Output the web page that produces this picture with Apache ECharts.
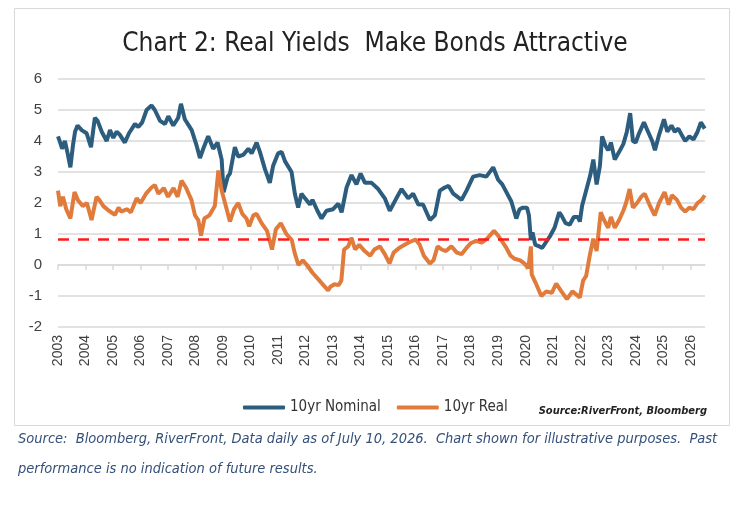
<!DOCTYPE html>
<html>
<head>
<meta charset="utf-8">
<script src="https://cdn.jsdelivr.net/npm/echarts@6/dist/echarts.min.js"></script>
<style>
  html, body { margin: 0; padding: 0; background: #fff; }
  #chart { width: 750px; height: 516px; }
</style>
</head>
<body>
<div id="chart"></div>
<script>
// [year, yield %]
const nominal10y = [
  [2003.00, 4.15], [2003.08, 3.95], [2003.15, 3.75], [2003.25, 4.0], [2003.35, 3.6], [2003.45, 3.15],
  [2003.55, 3.9], [2003.62, 4.3], [2003.71, 4.5], [2003.86, 4.35], [2004.04, 4.25], [2004.2, 3.8],
  [2004.34, 4.75], [2004.44, 4.65], [2004.59, 4.3], [2004.77, 4.0], [2004.89, 4.35], [2005.01, 4.1],
  [2005.13, 4.3], [2005.25, 4.2], [2005.43, 3.95], [2005.58, 4.25], [2005.8, 4.55], [2005.92, 4.45],
  [2006.06, 4.6], [2006.22, 5.0], [2006.4, 5.15], [2006.52, 5.0], [2006.71, 4.65], [2006.89, 4.55],
  [2007.01, 4.8], [2007.19, 4.5], [2007.37, 4.75], [2007.47, 5.2], [2007.61, 4.7], [2007.86, 4.35],
  [2008.04, 3.85], [2008.16, 3.45], [2008.28, 3.75], [2008.46, 4.15], [2008.64, 3.75], [2008.8, 3.95],
  [2008.95, 3.4], [2009.02, 2.35], [2009.17, 2.85], [2009.25, 2.95], [2009.43, 3.8], [2009.55, 3.5],
  [2009.73, 3.55], [2009.92, 3.75], [2010.04, 3.6], [2010.22, 3.95], [2010.34, 3.65], [2010.52, 3.1],
  [2010.7, 2.65], [2010.82, 3.2], [2011.0, 3.6], [2011.13, 3.65], [2011.25, 3.35], [2011.49, 3.0],
  [2011.61, 2.3], [2011.73, 1.85], [2011.85, 2.3], [2011.98, 2.15], [2012.16, 1.95], [2012.25, 2.1],
  [2012.43, 1.75], [2012.58, 1.5], [2012.76, 1.75], [2013.0, 1.8], [2013.19, 1.98], [2013.31, 1.7],
  [2013.49, 2.5], [2013.67, 2.9], [2013.85, 2.6], [2014.0, 2.95], [2014.16, 2.65], [2014.4, 2.65],
  [2014.64, 2.45], [2014.88, 2.15], [2015.06, 1.75], [2015.3, 2.15], [2015.49, 2.45], [2015.73, 2.15],
  [2015.91, 2.3], [2016.1, 1.95], [2016.27, 1.95], [2016.52, 1.45], [2016.7, 1.6], [2016.88, 2.4],
  [2017.06, 2.5], [2017.2, 2.55], [2017.37, 2.3], [2017.67, 2.1], [2017.85, 2.4], [2018.09, 2.85],
  [2018.33, 2.9], [2018.57, 2.85], [2018.82, 3.15], [2019.0, 2.75], [2019.15, 2.6], [2019.3, 2.35],
  [2019.48, 2.05], [2019.66, 1.5], [2019.78, 1.8], [2019.9, 1.85], [2020.05, 1.85], [2020.12, 1.6],
  [2020.19, 0.8], [2020.25, 1.05], [2020.35, 0.65], [2020.5, 0.6], [2020.6, 0.55], [2020.75, 0.75],
  [2020.9, 0.95], [2021.05, 1.2], [2021.22, 1.7], [2021.3, 1.6], [2021.45, 1.35], [2021.6, 1.3],
  [2021.75, 1.55], [2021.9, 1.55], [2021.97, 1.4], [2022.05, 1.9], [2022.2, 2.4], [2022.35, 2.9],
  [2022.46, 3.4], [2022.58, 2.6], [2022.7, 3.2], [2022.78, 4.15], [2022.9, 3.85], [2023.0, 3.7],
  [2023.1, 3.95], [2023.24, 3.4], [2023.4, 3.65], [2023.55, 3.9], [2023.68, 4.3], [2023.8, 4.9],
  [2023.9, 4.0], [2024.0, 3.95], [2024.1, 4.2], [2024.3, 4.6], [2024.45, 4.3], [2024.6, 4.0],
  [2024.7, 3.7], [2024.85, 4.2], [2025.03, 4.7], [2025.15, 4.3], [2025.3, 4.5], [2025.42, 4.3],
  [2025.55, 4.4], [2025.7, 4.15], [2025.8, 4.0], [2025.95, 4.15], [2026.1, 4.05], [2026.25, 4.3],
  [2026.37, 4.6], [2026.51, 4.4]
];

const real10y = [
  [2003.00, 2.4], [2003.08, 1.9], [2003.18, 2.2], [2003.3, 1.8], [2003.45, 1.5], [2003.6, 2.35],
  [2003.72, 2.1], [2003.9, 1.9], [2004.05, 2.0], [2004.22, 1.45], [2004.4, 2.2], [2004.5, 2.1],
  [2004.65, 1.9], [2004.85, 1.75], [2005.07, 1.62], [2005.2, 1.85], [2005.3, 1.72], [2005.5, 1.8],
  [2005.65, 1.7], [2005.86, 2.15], [2006.0, 2.0], [2006.2, 2.3], [2006.4, 2.5], [2006.52, 2.58],
  [2006.65, 2.3], [2006.85, 2.48], [2007.0, 2.2], [2007.2, 2.48], [2007.35, 2.2], [2007.49, 2.72],
  [2007.65, 2.5], [2007.85, 2.1], [2007.98, 1.6], [2008.1, 1.45], [2008.2, 0.95], [2008.32, 1.5],
  [2008.5, 1.6], [2008.7, 1.9], [2008.83, 3.05], [2008.95, 2.4], [2009.1, 1.9], [2009.25, 1.4],
  [2009.4, 1.8], [2009.55, 2.0], [2009.7, 1.65], [2009.85, 1.5], [2009.95, 1.25], [2010.1, 1.6],
  [2010.22, 1.65], [2010.4, 1.35], [2010.6, 1.1], [2010.78, 0.5], [2010.92, 1.15], [2011.1, 1.35],
  [2011.3, 1.0], [2011.5, 0.8], [2011.6, 0.4], [2011.74, 0.0], [2011.9, 0.15], [2012.05, 0.0],
  [2012.25, -0.25], [2012.45, -0.45], [2012.6, -0.6], [2012.82, -0.82], [2012.9, -0.7], [2013.05, -0.62],
  [2013.2, -0.65], [2013.3, -0.5], [2013.4, 0.5], [2013.55, 0.6], [2013.67, 0.88], [2013.8, 0.5],
  [2013.95, 0.65], [2014.15, 0.45], [2014.35, 0.3], [2014.5, 0.5], [2014.7, 0.6], [2014.88, 0.35],
  [2015.05, 0.05], [2015.2, 0.4], [2015.4, 0.55], [2015.6, 0.65], [2015.8, 0.75], [2016.0, 0.82],
  [2016.15, 0.65], [2016.3, 0.3], [2016.52, 0.05], [2016.65, 0.15], [2016.8, 0.6], [2016.95, 0.5],
  [2017.1, 0.45], [2017.3, 0.6], [2017.5, 0.4], [2017.67, 0.35], [2017.85, 0.55], [2018.0, 0.7],
  [2018.2, 0.78], [2018.4, 0.72], [2018.6, 0.85], [2018.85, 1.1], [2019.0, 0.95], [2019.15, 0.75],
  [2019.3, 0.55], [2019.45, 0.3], [2019.6, 0.2], [2019.8, 0.15], [2019.95, 0.05], [2020.1, -0.1],
  [2020.19, 0.6], [2020.22, -0.3], [2020.35, -0.55], [2020.57, -1.0], [2020.75, -0.85], [2020.95, -0.9],
  [2021.11, -0.6], [2021.3, -0.85], [2021.5, -1.1], [2021.7, -0.85], [2021.97, -1.05], [2022.09, -0.5],
  [2022.2, -0.35], [2022.33, 0.3], [2022.46, 0.85], [2022.58, 0.45], [2022.73, 1.7], [2022.85, 1.45],
  [2023.0, 1.2], [2023.1, 1.55], [2023.24, 1.2], [2023.4, 1.45], [2023.55, 1.75], [2023.65, 2.0],
  [2023.78, 2.45], [2023.9, 1.85], [2024.05, 2.0], [2024.2, 2.2], [2024.33, 2.3], [2024.5, 1.95],
  [2024.69, 1.6], [2024.85, 2.0], [2025.05, 2.35], [2025.2, 1.95], [2025.32, 2.25], [2025.5, 2.1],
  [2025.65, 1.85], [2025.8, 1.72], [2025.95, 1.85], [2026.1, 1.8], [2026.25, 2.0], [2026.4, 2.1],
  [2026.51, 2.25]
];

const thresholdLevel = 0.84;
const yTicks = { min: -2, max: 6, step: 1 };
const xRange = { min: 2003, max: 2026.52, step: 1 };

const narrow = "'Liberation Sans Narrow', 'DejaVu Sans Condensed', sans-serif";

const chart = echarts.init(document.getElementById('chart'));

chart.setOption({
  animation: false,
  backgroundColor: '#fff',
  title: {
    text: 'Chart 2: Real Yields  Make Bonds Attractive',
    left: 'center',
    top: 26,
    textStyle: { fontFamily: narrow, fontSize: 26, fontWeight: 'normal', color: '#222' }
  },
  grid: { left: 58, right: 45, top: 79, bottom: 189 },
  legend: {
    left: 238,
    top: 395,
    icon: 'roundRect',
    itemWidth: 42,
    itemHeight: 4,
    itemGap: 16,
    textStyle: { fontFamily: narrow, fontSize: 15, color: '#333' },
    data: ['10yr Nominal', '10yr Real']
  },
  xAxis: {
    type: 'value',
    min: xRange.min,
    max: xRange.max,
    interval: xRange.step,
    axisLine: { onZero: true, lineStyle: { color: '#d9d9d9', width: 1.5 } },
    axisTick: { show: true, length: 5, lineStyle: { color: '#d9d9d9', width: 1.5 } },
    splitLine: { show: false },
    axisLabel: {
      rotate: 90,
      margin: 8,
      fontFamily: 'Liberation Sans, Arial, sans-serif',
      fontSize: 14,
      color: '#404040',
      showMaxLabel: false,
      formatter: v => Number.isInteger(v) ? String(v) : ''
    }
  },
  yAxis: {
    type: 'value',
    min: yTicks.min,
    max: yTicks.max,
    interval: yTicks.step,
    axisLine: { show: false },
    axisTick: { show: false },
    axisLabel: { fontFamily: 'Liberation Sans, Arial, sans-serif', fontSize: 15, color: '#404040', margin: 16 },
    splitLine: { lineStyle: { color: '#d9d9d9', width: 1.5 } }
  },
  series: [
    {
      name: '10yr Nominal',
      type: 'line',
      data: nominal10y,
      showSymbol: false,
      lineStyle: { color: '#2c5d7e', width: 4 },
      itemStyle: { color: '#2c5d7e' },
      markLine: {
        silent: true,
        symbol: 'none',
        label: { show: false },
        lineStyle: { color: '#ff1a1a', type: [11, 9], width: 2.5 },
        data: [{ yAxis: thresholdLevel }]
      }
    },
    {
      name: '10yr Real',
      type: 'line',
      data: real10y,
      showSymbol: false,
      lineStyle: { color: '#e07b3c', width: 4 },
      itemStyle: { color: '#e07b3c' }
    }
  ],
  graphic: [
    {
      type: 'rect',
      shape: { x: 14.5, y: 8.5, width: 715, height: 417 },
      style: { fill: 'none', stroke: '#d9d9d9', lineWidth: 1 },
      z: -1
    },
    {
      type: 'text',
      right: 750 - 707,
      top: 406,
      style: {
        text: 'Source:RiverFront, Bloomberg',
        fontFamily: narrow,
        fontSize: 11,
        fontWeight: 'bold',
        fontStyle: 'italic',
        fill: '#222'
      }
    },
    {
      type: 'text',
      left: 18,
      top: 424,
      style: {
        text: 'Source:  Bloomberg, RiverFront, Data daily as of July 10, 2026.  Chart shown for illustrative purposes.  Past\nperformance is no indication of future results.',
        fontFamily: narrow,
        fontSize: 14.5,
        fontStyle: 'italic',
        lineHeight: 30,
        fill: '#34507a'
      }
    }
  ]
});

window.addEventListener('resize', () => chart.resize());
</script>
</body>
</html>
